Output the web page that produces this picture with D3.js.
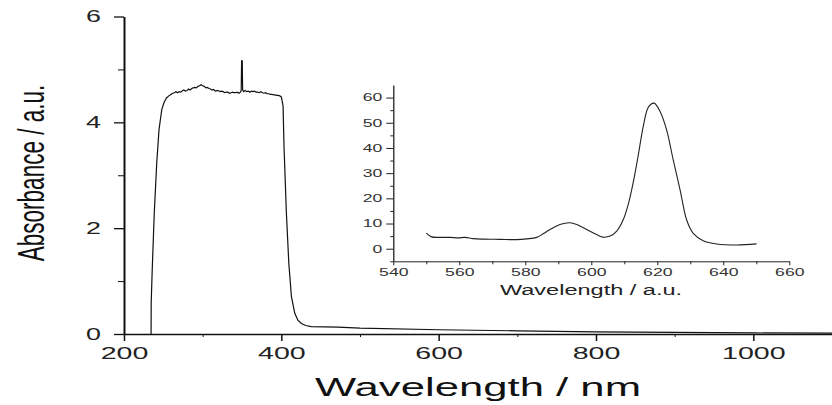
<!DOCTYPE html>
<html>
<head>
<meta charset="utf-8">
<script src="https://cdn.jsdelivr.net/npm/d3@7"></script>
<style>
  body { margin: 0; background: #fff; }
  svg { display: block; font-family: "Liberation Sans", Arial, sans-serif; }
  .axis path, .axis line { stroke: #111; }
  .axis text { fill: #222; }
  .inset .axis path, .inset .axis line { stroke: #222; }
  .inset .axis text { fill: #333; }
</style>
</head>
<body>
<svg width="832" height="405"></svg>
<script>
// main absorbance spectrum
const mainWl = [
  234.4, 234.6, 236, 238.5, 241.6, 244.5, 248, 251, 254, 257, 260, 262,
  264, 266, 268, 270, 272, 274, 276, 278, 280, 282, 284, 286, 288, 290,
  292, 294, 296, 298, 300, 302, 304, 306, 308, 310, 312, 314, 316, 318,
  320, 322, 324, 326, 328, 330, 332, 334, 336, 338, 340, 342, 344, 346,
  348, 349, 349.5, 350.3, 350.8, 352, 354, 356, 358, 360, 362, 364, 366,
  368, 370, 372, 374, 376, 378, 380, 382, 384, 386, 388, 390, 392, 394,
  396, 398, 400, 402.2, 403.4, 406.4, 409.5, 412.8, 417.1, 421, 425.5,
  431, 438, 472, 500, 600, 700, 800, 900, 1000, 1100
]
const mainAbs = [
  0, 0.6, 1.27, 2.29, 3.23, 3.86, 4.24, 4.38, 4.46, 4.5, 4.53, 4.55,
  4.56, 4.58, 4.56, 4.58, 4.57, 4.59, 4.61, 4.59, 4.60, 4.63, 4.61, 4.64, 4.65, 4.66,
  4.65, 4.68, 4.69, 4.71, 4.69, 4.68, 4.65, 4.66, 4.64, 4.63, 4.61, 4.62, 4.59, 4.60,
  4.60, 4.58, 4.59, 4.58, 4.56, 4.57, 4.57, 4.55, 4.56, 4.57, 4.56, 4.56, 4.57, 4.55,
  4.57, 4.60, 5.16, 5.16, 4.62, 4.58, 4.60, 4.58, 4.59, 4.57, 4.59, 4.58, 4.59,
  4.57, 4.57, 4.56, 4.58, 4.56, 4.55, 4.56, 4.54, 4.54, 4.53, 4.53, 4.52, 4.52, 4.51,
  4.51, 4.50, 4.48, 4.31, 3.55, 2.29, 1.34, 0.71, 0.39, 0.26, 0.20,
  0.16, 0.14, 0.13, 0.11, 0.08, 0.06, 0.04, 0.03, 0.02, 0.015
]
const mainXTicks = [200, 400, 600, 800, 1000]
const mainXMinor = [300, 500, 700, 900, 1100]
const mainYTicks = [0, 2, 4, 6]
const mainYMinor = [1, 3, 5]

// inset emission spectrum
const insetWl = [
  550, 551.6, 554.1, 557.2, 559.7, 561.7, 564.2, 567.3, 572.3, 577.4, 580.4,
  583.5, 585.5, 587.5, 590.5, 593.5, 595.6, 598.6, 601.6, 603.6, 605.7, 607.7,
  609.7, 611.2, 612.7, 614.2, 615.8, 617.3, 619, 620.8, 622.8, 624.8, 626.9,
  628.9, 630.9, 633.9, 638, 644.1, 650.1
]
const insetInt = [
  6.2, 4.7, 4.5, 4.5, 4.3, 4.5, 4.0, 3.8, 3.7, 3.6, 3.9,
  4.5, 6.0, 7.6, 9.6, 10.3, 9.6, 7.6, 5.6, 4.6, 5.0, 7.0,
  11.6, 17.6, 26.3, 36.9, 48.9, 56.2, 57.8, 54.6, 47.3, 35.4, 23.4,
  11.4, 6.1, 3.2, 1.9, 1.5, 1.9
]
const insetXTicks = [540, 560, 580, 600, 620, 640, 660]
const insetXMinor = [550, 570, 590, 610, 630, 650]
const insetYTicks = [0, 10, 20, 30, 40, 50, 60]
const insetYMinor = [-5, 5, 15, 25, 35, 45, 55]

const sx = 1.68 // horizontal stretch of the original figure's lettering

const svg = d3.select("svg")

// ---- main plot
const x = d3.scaleLinear().domain([200, 1100]).range([124, 832])
const y = d3.scaleLinear().domain([0, 6]).range([334, 16.5])

const stretchText = (sel, dx) => {
  sel.selectAll("text")
    .attr("transform", `scale(${sx},1)`)
    .attr("x", dx / sx)
}

svg.append("g").attr("class", "axis")
  .attr("transform", "translate(0,334)")
  .call(d3.axisBottom(x).tickValues(mainXMinor).tickSize(3).tickFormat(""))
  .call(g => g.select(".domain").remove())

const gx = svg.append("g").attr("class", "axis")
  .attr("transform", "translate(0,334)")
  .call(d3.axisBottom(x).tickValues(mainXTicks).tickFormat(d3.format("d"))
    .tickSize(7).tickSizeOuter(0).tickPadding(6))
gx.select(".domain").attr("stroke-width", 1.5).attr("stroke", "#444")
gx.selectAll(".tick line").attr("stroke-width", 1.5)
gx.selectAll("text").attr("font-size", 17)
stretchText(gx, 0)

svg.append("g").attr("class", "axis")
  .attr("transform", "translate(124,0)")
  .call(d3.axisLeft(y).tickValues(mainYMinor).tickSize(6).tickFormat(""))
  .call(g => g.select(".domain").remove())

const gy = svg.append("g").attr("class", "axis")
  .attr("transform", "translate(124,0)")
  .call(d3.axisLeft(y).tickValues(mainYTicks).tickFormat(d3.format("d"))
    .tickSize(10).tickSizeOuter(0))
gy.select(".domain").attr("stroke-width", 2)
gy.selectAll(".tick line").attr("stroke-width", 1.3)
gy.selectAll("text").attr("font-size", 16)
stretchText(gy, -23)

const line = d3.line().x(d => x(d[0])).y(d => y(d[1]))
svg.append("path")
  .datum(mainWl.map((w, i) => [w, mainAbs[i]]))
  .attr("d", line)
  .attr("fill", "none")
  .attr("stroke", "#111")
  .attr("stroke-width", 1.2)

svg.append("text")
  .attr("transform", `translate(478,396) scale(${sx},1)`)
  .attr("text-anchor", "middle")
  .attr("font-size", 26)
  .attr("fill", "#111")
  .text("Wavelength / nm")

svg.append("text")
  .attr("transform", `translate(44,173) scale(${sx},1) rotate(-90)`)
  .attr("text-anchor", "middle")
  .attr("font-size", 22.5)
  .attr("fill", "#111")
  .text("Absorbance / a.u.")

// ---- inset
const ix = d3.scaleLinear().domain([540, 660]).range([393.3, 789.3])
const iy = d3.scaleLinear().domain([-5, 65]).range([261.3, 85])
const inset = svg.append("g").attr("class", "inset")

inset.append("g").attr("class", "axis")
  .attr("transform", "translate(0,261.3)")
  .call(d3.axisBottom(ix).tickValues(insetXMinor).tickSize(3).tickFormat(""))
  .call(g => g.select(".domain").remove())

const igx = inset.append("g").attr("class", "axis")
  .attr("transform", "translate(0,261.3)")
  .call(d3.axisBottom(ix).tickValues(insetXTicks).tickSize(4).tickSizeOuter(0).tickPadding(3))
igx.selectAll("text").attr("font-size", 10.5)
stretchText(igx, 0)

inset.append("g").attr("class", "axis")
  .attr("transform", "translate(393.3,0)")
  .call(d3.axisLeft(iy).tickValues(insetYMinor).tickSize(3).tickFormat(""))
  .call(g => g.select(".domain").remove())

const igy = inset.append("g").attr("class", "axis")
  .attr("transform", "translate(393.3,0)")
  .call(d3.axisLeft(iy).tickValues(insetYTicks).tickSize(7).tickSizeOuter(0))
igy.select(".domain").attr("stroke-width", 1.3)
igy.selectAll("text").attr("font-size", 10.5)
stretchText(igy, -11)

const iline = d3.line().curve(d3.curveCatmullRom).x(d => ix(d[0])).y(d => iy(d[1]))
inset.append("path")
  .datum(insetWl.map((w, i) => [w, insetInt[i]]))
  .attr("d", iline)
  .attr("fill", "none")
  .attr("stroke", "#222")
  .attr("stroke-width", 1.1)

inset.append("text")
  .attr("transform", `translate(591,295) scale(${sx},1)`)
  .attr("text-anchor", "middle")
  .attr("font-size", 14)
  .attr("fill", "#222")
  .text("Wavelength / a.u.")
</script>
</body>
</html>
